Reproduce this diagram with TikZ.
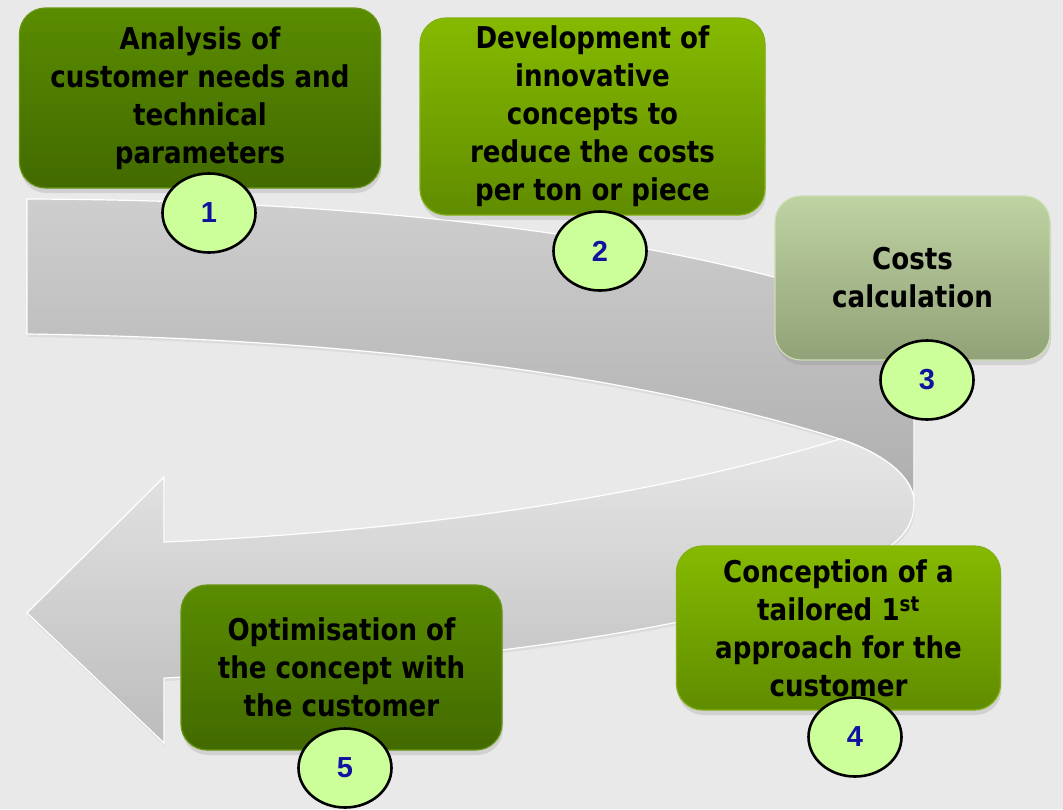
\documentclass[tikz,border=0pt]{standalone}
\usepackage{fontspec}
\setmainfont{DejaVu Sans}[FakeStretch=0.87]
\newfontfamily\numfont{Liberation Sans}
\usetikzlibrary{shapes.geometric,shadows}

\definecolor{bg}{RGB}{233,233,233}
\definecolor{darkTop}{RGB}{90,140,0}
\definecolor{darkBot}{RGB}{66,106,0}
\definecolor{darkEdge}{RGB}{104,150,20}
\definecolor{brightTop}{RGB}{134,186,0}
\definecolor{brightBot}{RGB}{96,140,0}
\definecolor{brightEdge}{RGB}{130,176,20}
\definecolor{paleTop}{RGB}{190,210,162}
\definecolor{paleBot}{RGB}{146,162,120}
\definecolor{paleEdge}{RGB}{204,222,180}
\definecolor{badgeFill}{RGB}{204,255,153}
\definecolor{digit}{RGB}{18,18,160}
\definecolor{bandUpA}{RGB}{206,206,206}
\definecolor{bandUpB}{RGB}{174,174,174}
\definecolor{bandLowA}{RGB}{230,230,230}
\definecolor{bandLowB}{RGB}{188,188,188}

\tikzset{
  band/.style={draw=white, line width=1.2pt,
    drop shadow={shadow xshift=1pt, shadow yshift=-3pt, opacity=0.12}},
  stepbox/.style={rectangle, rounded corners=26pt, line width=1.2pt,
    align=center, inner sep=0pt, text=black,
    font=\fontsize{30}{38}\selectfont\bfseries,
    drop shadow={shadow xshift=1pt, shadow yshift=-5pt, opacity=0.22}},
  darkbox/.style={stepbox, top color=darkTop, bottom color=darkBot, draw=darkEdge},
  brightbox/.style={stepbox, top color=brightTop, bottom color=brightBot, draw=brightEdge},
  palebox/.style={stepbox, top color=paleTop, bottom color=paleBot, draw=paleEdge},
  badge/.style={ellipse, draw=black, line width=2.6pt, fill=badgeFill,
    minimum width=93pt, minimum height=79pt, inner sep=0pt, text=digit,
    font=\numfont\bfseries\fontsize{29}{29}\selectfont}
}

\begin{document}
\begin{tikzpicture}[x=1pt,y=-1pt]
\useasboundingbox (0,0) rectangle (1063,809);
\fill[bg] (0,0) rectangle (1063,809);

% upper part of the ribbon, running to the right and bending down
\path[band, top color=bandUpA, bottom color=bandUpB]
  (27,199) .. controls (300,200) and (560,222) .. (774,277)
  .. controls (870,302) and (914,360) .. (914,420)
  -- (914,500)
  .. controls (912,475) and (880,452) .. (840,439)
  .. controls (700,395) and (450,340) .. (27,334) -- cycle;

% lower part of the ribbon, returning to the left with the arrow head
\path[band, top color=bandLowA, bottom color=bandLowB]
  (840,439) .. controls (640,500) and (400,532) .. (164,542)
  -- (164,477) -- (27,613) -- (164,743) -- (164,678)
  .. controls (500,662) and (820,615) .. (894,543)
  .. controls (910,530) and (915,515) .. (914,500)
  .. controls (912,475) and (880,452) .. (840,439) -- cycle;

% process steps
\node[darkbox, minimum width=361pt, minimum height=180pt] (b1) at (200,98)
  {Analysis of\\customer needs and\\technical\\parameters};
\node[brightbox, minimum width=345pt, minimum height=197pt] (b2) at (592.5,116.5)
  {Development of\\innovative\\concepts to\\reduce the costs\\per ton or piece};
\node[palebox, minimum width=275pt, minimum height=164pt] (b3) at (912.5,278)
  {Costs\\calculation};
\node[brightbox, minimum width=324pt, minimum height=164pt] (b4) at (838.5,628)
  {Conception of a\\tailored 1\textsuperscript{st}\\approach for the\\customer};
\node[darkbox, minimum width=321pt, minimum height=165pt] (b5) at (341.5,667.5)
  {Optimisation of\\the concept with\\the customer};

% step numbers
\node[badge] (n1) at (209,213) {1};
\node[badge] (n2) at (600,251) {2};
\node[badge] (n3) at (927,380) {3};
\node[badge] (n4) at (855,737) {4};
\node[badge] (n5) at (345,768) {5};
\end{tikzpicture}
\end{document}
